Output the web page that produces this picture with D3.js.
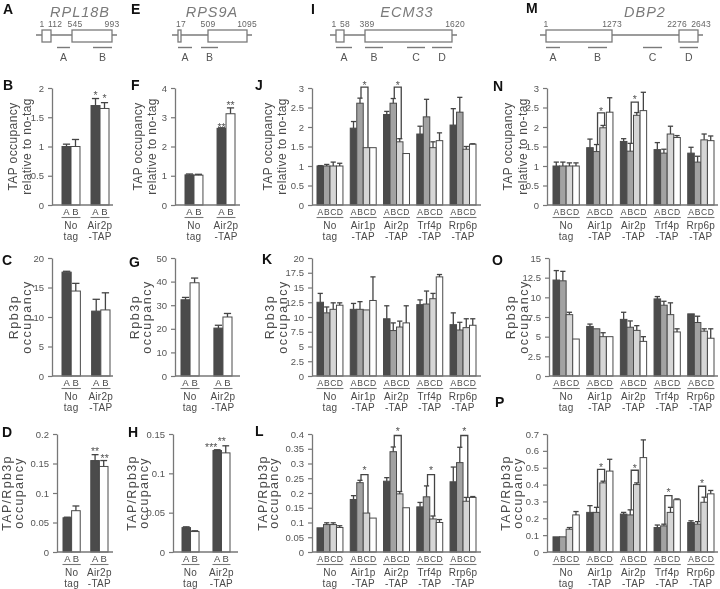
<!DOCTYPE html>
<html><head><meta charset="utf-8">
<script src="https://cdn.jsdelivr.net/npm/d3@7"></script>
<style>
body{margin:0;background:#fff}
svg{display:block;will-change:transform}
text{font-family:"Liberation Sans",Arial,Helvetica,sans-serif}
</style>
</head><body>
<svg id="c" width="720" height="589"></svg>
<script>
// ================= DATA =================
const probes2 = ["A","B"];
const probes4 = ["A","B","C","D"];
const strains2Line1 = ["No","Air2p"];
const strains2Line2 = ["tag","-TAP"];
const strains5Line1 = ["No","Air1p","Air2p","Trf4p","Rrp6p"];
const strains5Line2 = ["tag","-TAP","-TAP","-TAP","-TAP"];

// RPL18B (panels B, C, D)
const rpl18bTap = [[1.00,1.00],[1.70,1.65]];
const rpl18bTapErr = [[0.04,0.12],[0.12,0.10]];
const rpl18bRpb3 = [[17.6,14.4],[11.0,11.2]];
const rpl18bRpb3Err = [[0.15,1.3],[2.0,2.9]];
const rpl18bRatio = [[0.058,0.070],[0.155,0.145]];
const rpl18bRatioErr = [[0.001,0.008],[0.010,0.010]];

// RPS9A (panels F, G, H)
const rps9aTap = [[1.03,1.02],[2.62,3.12]];
const rps9aTapErr = [[0.03,0.03],[0.02,0.20]];
const rps9aRpb3 = [[32.3,39.5],[20.3,25.0]];
const rps9aRpb3Err = [[1.0,2.0],[1.2,1.5]];
const rps9aRatio = [[0.031,0.026],[0.129,0.126]];
const rps9aRatioErr = [[0.001,0.001],[0.001,0.009]];

// ECM33 (panels J, K, L)
const ecm33Tap = [[1.00,1.00,1.00,1.00],[1.97,2.61,1.47,1.47],[2.32,2.61,1.62,1.32],[1.82,2.26,1.47,1.65],[2.05,2.38,1.43,1.56]];
const ecm33TapErr = [[0.01,0.04,0.10,0.07],[0.17,0.13,0,0],[0.08,0.12,0.08,0],[0.20,0.45,0.15,0.20],[0.42,0.38,0.07,0.01]];
const ecm33Rpb3 = [[12.5,10.7,11.3,12.0],[11.3,11.3,11.2,12.8],[9.7,7.7,8.3,9.0],[12.1,12.2,13.1,16.8],[8.7,7.8,8.2,8.6]];
const ecm33Rpb3Err = [[1.5,1.0,1.1,0.4],[1.0,1.3,0,4.0],[2.2,1.3,1.0,2.9],[0.8,2.2,0.9,0.4],[2.0,1.3,1.5,1.1]];
const ecm33Ratio = [[0.082,0.093,0.093,0.083],[0.178,0.235,0.132,0.115],[0.240,0.340,0.197,0.150],[0.153,0.187,0.112,0.100],[0.238,0.303,0.172,0.185]];
const ecm33RatioErr = [[0,0.006,0.006,0.006],[0.013,0.008,0,0],[0.012,0.016,0.008,0],[0.015,0.037,0.010,0.010],[0.050,0.052,0.013,0.003]];

// DBP2 (panels N, O, P)
const dbp2Tap = [[1.00,1.00,1.00,1.00],[1.47,1.37,1.98,2.38],[1.63,1.38,2.30,2.42],[1.42,1.33,1.82,1.73],[1.33,1.10,1.67,1.65]];
const dbp2TapErr = [[0.10,0.10,0.08,0.08],[0.22,0.18,0.06,0.37],[0.07,0.20,0.07,0.47],[0.18,0.10,0.20,0.05],[0.15,0.15,0.15,0.12]];
const dbp2Rpb3 = [[12.2,12.1,7.8,4.7],[6.3,6.0,5.0,5.0],[7.2,6.2,5.8,4.4],[9.8,9.0,7.8,5.6],[7.9,6.8,5.7,4.8]];
const dbp2Rpb3Err = [[1.2,1.2,0.3,0],[0.3,0,0.5,0],[0.9,0.8,0.6,0.6],[0.3,0.5,1.5,0.4],[0,0.8,0.3,1.2]];
const dbp2Ratio = [[0.09,0.09,0.135,0.22],[0.235,0.235,0.41,0.48],[0.225,0.22,0.40,0.56],[0.145,0.155,0.235,0.31],[0.175,0.165,0.295,0.345]];
const dbp2RatioErr = [[0,0,0.01,0.02],[0.04,0.03,0.01,0.07],[0.01,0.03,0.01,0.105],[0.015,0.01,0.03,0.005],[0.01,0.015,0.03,0.02]];

// tick values
const ticksB = [0,0.5,1,1.5,2];
const ticksF = [0,1,2,3,4];
const ticksC = [0,5,10,15,20];
const ticksG = [0,10,20,30,40,50];
const ticksD = [0,0.05,0.1,0.15,0.2];
const ticksH = [0,0.05,0.1,0.15];
const ticksJN = [0,0.5,1,1.5,2,2.5,3];
const ticksK = [0,2.5,5,7.5,10,12.5,15,17.5,20];
const ticksO = [0,2.5,5,7.5,10,12.5,15];
const ticksL = [0,0.05,0.1,0.15,0.2,0.25,0.3,0.35,0.4];
const ticksP = [0,0.1,0.2,0.3,0.4,0.5,0.6,0.7];

// significance marks (group, probe, text, level)
const rpl18bTapStars = [{g:1,p:0,t:"*",v:1.91},{g:1,p:1,t:"*",v:1.86}];
const rps9aTapStars = [{g:1,p:0,t:"**",v:2.73},{g:1,p:1,t:"**",v:3.49}];
const rpl18bRatioStars = [{g:1,p:0,t:"**",v:0.175},{g:1,p:1,t:"**",v:0.163}];
const rps9aRatioStars = [{g:1,p:0,t:"***",v:0.136},{g:1,p:1,t:"**",v:0.144}];
// brackets between probe B and C (group, bracket level, star level)
const ecm33TapBrackets = [{g:1,top:3.02,star:3.14},{g:2,top:3.02,star:3.14}];
const dbp2TapBrackets = [{g:1,top:2.36,star:2.47},{g:2,top:2.64,star:2.78}];
const ecm33RatioBrackets = [{g:1,top:0.262,star:0.285},{g:2,top:0.395,star:0.418},{g:3,top:0.262,star:0.285},{g:4,top:0.395,star:0.418}];
const dbp2RatioBrackets = [{g:1,top:0.49,star:0.515},{g:2,top:0.485,star:0.51},{g:3,top:0.335,star:0.365},{g:4,top:0.39,star:0.42}];

// gene maps
const geneNames = ["RPL18B","RPS9A","ECM33","DBP2"];
const rpl18bMarks = [1,112,545,993];
const rpl18bExons = [[1,112],[545,993]];
const rpl18bAmplicons = [[236,503],[780,993]];
const rps9aMarks = [1,17,509,1095];
const rps9aLabels = [17,509,1095];
const rps9aExons = [[1,17],[509,1095]];
const rps9aAmplicons = [[1,217],[381,659]];
const ecm33Marks = [1,58,389,1620];
const ecm33Exons = [[1,58],[389,1620]];
const ecm33Amplicons = [[1,184],[389,644],[983,1238],[1337,1620]];
const dbp2Marks = [1,1273,2276,2643];
const dbp2Exons = [[1,1273],[2276,2643]];
const dbp2Amplicons = [[1,271],[810,1177],[1737,2022],[2291,2643]];

// ================= DRAWING =================
const svg = d3.select("#c");
const FONT = '"Liberation Sans",Arial,Helvetica,sans-serif';
const fill4 = ["#4b4b4b","#a2a2a2","#d6d6d6","#ffffff"];
const fill2 = ["#4b4b4b","#ffffff"];
const AX = "#777", TXT = "#4a4a4a";

function panel(o){
  const g = svg.append("g");
  const nP = o.probes.length;
  const y = d3.scaleLinear().domain([0,o.max]).range([o.base,o.top]);
  const x0 = d3.scaleBand().domain(d3.range(o.values.length)).range(o.groupRange).paddingInner(o.pad).paddingOuter(0);
  const x1 = d3.scaleBand().domain(d3.range(nP)).range([0,x0.bandwidth()]);
  const fills = nP===4 ? fill4 : fill2;
  const bw = x1.bandwidth();
  const cx = (gi,pi)=> x0(gi)+x1(pi)+bw/2;

  // y axis
  const ax = d3.axisLeft(y).tickValues(o.ticks).tickSize(4).tickSizeOuter(0).tickPadding(4).tickFormat(d=>String(d));
  const axG = g.append("g").attr("transform",`translate(${o.axisX},0)`).call(ax);
  axG.select(".domain").attr("stroke",AX).attr("stroke-width",1.3);
  axG.selectAll(".tick line").attr("stroke",AX).attr("stroke-width",1.2);
  axG.selectAll(".tick text").attr("fill","#555").style("font-size","9.5px").style("font-family",FONT);

  // bars
  const flat = [];
  o.values.forEach((grp,gi)=>grp.forEach((v,pi)=>flat.push({gi,pi,v,e:o.errs[gi][pi]})));
  g.selectAll("rect.bar").data(flat).join("rect").attr("class","bar")
    .attr("x",d=>x0(d.gi)+x1(d.pi)).attr("y",d=>y(d.v))
    .attr("width",bw).attr("height",d=>o.base-y(d.v))
    .attr("fill",d=>fills[d.pi]).attr("stroke","#4a4a4a").attr("stroke-width",1);
  // error bars (upper)
  const eb = flat.filter(d=>d.e>0);
  g.selectAll("line.ev").data(eb).join("line")
    .attr("x1",d=>cx(d.gi,d.pi)).attr("x2",d=>cx(d.gi,d.pi))
    .attr("y1",d=>y(d.v)).attr("y2",d=>y(d.v+d.e))
    .attr("stroke","#444").attr("stroke-width",1.3);
  g.selectAll("line.ec").data(eb).join("line")
    .attr("x1",d=>cx(d.gi,d.pi)-bw*0.4).attr("x2",d=>cx(d.gi,d.pi)+bw*0.4)
    .attr("y1",d=>y(d.v+d.e)).attr("y2",d=>y(d.v+d.e))
    .attr("stroke","#444").attr("stroke-width",1.3);

  // baseline
  g.append("line").attr("x1",o.axisX).attr("x2",o.axisEnd).attr("y1",o.base).attr("y2",o.base)
    .attr("stroke",AX).attr("stroke-width",1.3);

  // probe letters, underline, strain labels
  o.values.forEach((grp,gi)=>{
    o.probes.forEach((p,pi)=>{
      g.append("text").attr("x",cx(gi,pi)).attr("y",o.base+10).attr("text-anchor","middle")
        .attr("fill",TXT).style("font-size",nP===4?"8.5px":"9.5px").text(p);
    });
    g.append("line").attr("x1",x0(gi)-0.5).attr("x2",x0(gi)+x0.bandwidth()+0.5)
      .attr("y1",o.base+12.5).attr("y2",o.base+12.5).attr("stroke",AX).attr("stroke-width",1.1);
    const mx = x0(gi)+x0.bandwidth()/2;
    g.append("text").attr("x",mx).attr("y",o.base+23.5).attr("text-anchor","middle")
      .attr("fill",TXT).style("font-size","10px").style("letter-spacing","0.3px").text(o.line1[gi]);
    g.append("text").attr("x",mx).attr("y",o.base+34.5).attr("text-anchor","middle")
      .attr("fill",TXT).style("font-size","10px").style("letter-spacing","0.3px").text(o.line2[gi]);
  });

  // stars
  (o.stars||[]).forEach((s,i)=>{
    const dx = o.starDx ? o.starDx[i] : 0;
    g.append("text").attr("x",cx(s.g,s.p)+dx).attr("y",y(s.v)+6).attr("text-anchor","middle")
      .attr("fill","#555").style("font-size","10.5px").text(s.t);
  });
  // brackets B–C
  (o.brackets||[]).forEach(b=>{
    const lx = cx(b.g,1)+1, rx = cx(b.g,2)+1.5;
    const lv = o.values[b.g][1]+o.errs[b.g][1];
    const rv = o.values[b.g][2]+o.errs[b.g][2];
    g.append("path").attr("d",`M${lx},${y(lv)}V${y(b.top)}H${rx}V${y(rv)}`)
      .attr("fill","none").attr("stroke","#444").attr("stroke-width",1.3);
    g.append("text").attr("x",(lx+rx)/2).attr("y",y(b.star)+6).attr("text-anchor","middle")
      .attr("fill","#555").style("font-size","10.5px").text("*");
  });

  // axis title
  const cy = (o.top+o.base)/2;
  o.title.forEach((t,i)=>{
    g.append("text").attr("transform",`translate(${o.titleX[i]},${cy}) rotate(-90)`)
      .attr("text-anchor","middle").attr("dy","0.35em")
      .attr("fill",TXT).style("font-size",o.titleSize+"px").style("letter-spacing",o.titleLS+"px").text(t);
  });
}

const R1 = {top:88, base:205}, R2 = {top:258, base:376}, R3 = {top:434, base:552};
const t1 = {title:["TAP occupancy","relative to no-tag"], titleSize:12, titleLS:0.4};
const t2 = {title:["Rpb3p","occupancy"], titleSize:12.5, titleLS:1.5};
const t3 = {title:["TAP/Rpb3p","occupancy"], titleSize:12.5, titleLS:1.3};
const c2 = {probes:probes2, line1:strains2Line1, line2:strains2Line2};
const c5 = {probes:probes4, line1:strains5Line1, line2:strains5Line2};

// Row 1
panel({...R1,...t1,...c2, values:rpl18bTap, errs:rpl18bTapErr, max:2, ticks:ticksB, axisX:52, axisEnd:113, groupRange:[62,109], pad:0.38, stars:rpl18bTapStars, titleX:[13,27]});
panel({...R1,...t1,...c2, values:rps9aTap, errs:rps9aTapErr, max:4, ticks:ticksF, axisX:175, axisEnd:240, groupRange:[185,235], pad:0.44, stars:rps9aTapStars, titleX:[138,152]});
panel({...R1,...t1,...c5, values:ecm33Tap, errs:ecm33TapErr, max:3, ticks:ticksJN, axisX:312, axisEnd:481, groupRange:[317,476], pad:0.22, brackets:ecm33TapBrackets, titleX:[268,282]});
panel({...R1,...t1,...c5, values:dbp2Tap, errs:dbp2TapErr, max:3, ticks:ticksJN, axisX:547, axisEnd:718, groupRange:[553,714], pad:0.22, brackets:dbp2TapBrackets, titleX:[508,523]});
// Row 2
panel({...R2,...t2,...c2, values:rpl18bRpb3, errs:rpl18bRpb3Err, max:20, ticks:ticksC, axisX:52, axisEnd:113, groupRange:[62,110], pad:0.38, titleX:[14,27]});
panel({...R2,...t2,...c2, values:rps9aRpb3, errs:rps9aRpb3Err, max:50, ticks:ticksG, axisX:175, axisEnd:240, groupRange:[181,232], pad:0.45, titleX:[135,147]});
panel({...R2,...t2,...c5, values:ecm33Rpb3, errs:ecm33Rpb3Err, max:20, ticks:ticksK, axisX:312, axisEnd:481, groupRange:[317,476], pad:0.22, titleX:[270,283]});
panel({...R2,...t2,...c5, values:dbp2Rpb3, errs:dbp2Rpb3Err, max:15, ticks:ticksO, axisX:549, axisEnd:718, groupRange:[553,714], pad:0.22, titleX:[511,524]});
// Row 3
panel({...R3,...t3,...c2, values:rpl18bRatio, errs:rpl18bRatioErr, max:0.2, ticks:ticksD, axisX:57, axisEnd:113, groupRange:[63,108], pad:0.38, stars:rpl18bRatioStars, starDx:[0,1], titleX:[7,19]});
panel({...R3,...t3,...c2, values:rps9aRatio, errs:rps9aRatioErr, max:0.15, ticks:ticksH, axisX:173, axisEnd:238, groupRange:[182,230], pad:0.45, stars:rps9aRatioStars, starDx:[-6,-4], titleX:[132,144]});
panel({...R3,...t3,...c5, values:ecm33Ratio, errs:ecm33RatioErr, max:0.4, ticks:ticksL, axisX:312, axisEnd:481, groupRange:[317,476], pad:0.22, brackets:ecm33RatioBrackets, titleX:[263,274]});
panel({...R3,...t3,...c5, values:dbp2Ratio, errs:dbp2RatioErr, max:0.7, ticks:ticksP, axisX:547, axisEnd:718, groupRange:[553,714], pad:0.22, brackets:dbp2RatioBrackets, titleX:[506,518]});

// gene maps
function gene(o){
  const g = svg.append("g");
  const s = d3.scaleLinear().domain(o.marks).range(o.px);
  const GC = "#7a7a7a";
  const L = o.marks[0], Rr = o.marks[o.marks.length-1];
  g.append("text").attr("x",o.titleX).attr("y",17).attr("text-anchor","middle")
    .attr("fill",GC).style("font-size","14.5px").style("font-style","italic").style("letter-spacing","1px").text(o.name);
  g.append("line").attr("x1",s(L)-6).attr("x2",s(Rr)+5).attr("y1",35).attr("y2",35).attr("stroke",GC).attr("stroke-width",1.3);
  o.exons.forEach(e=>{
    g.append("rect").attr("x",s(e[0])).attr("y",30).attr("width",s(e[1])-s(e[0])).attr("height",12)
      .attr("fill","#fff").attr("stroke",GC).attr("stroke-width",1.3);
  });
  o.amps.forEach((a,i)=>{
    g.append("line").attr("x1",s(a[0])).attr("x2",s(a[1])).attr("y1",47.5).attr("y2",47.5).attr("stroke",GC).attr("stroke-width",1.4);
    g.append("text").attr("x",(s(a[0])+s(a[1]))/2).attr("y",61).attr("text-anchor","middle")
      .attr("fill","#555").style("font-size","10.5px").text(probes4[i]);
  });
  o.labels.forEach((n,i)=>{
    g.append("text").attr("x",s(n)+(o.labelDx?o.labelDx[i]:0)).attr("y",27).attr("text-anchor","middle")
      .attr("fill","#666").style("font-size","8.5px").style("letter-spacing","0.2px").text(n);
  });
}
gene({name:geneNames[0], marks:rpl18bMarks, px:[42,51,72,112], labels:rpl18bMarks, labelDx:[0,4,3,0], exons:rpl18bExons, amps:rpl18bAmplicons, titleX:80});
gene({name:geneNames[1], marks:rps9aMarks, px:[178,181,208,247], labels:rps9aLabels, labelDx:[0,0,0], exons:rps9aExons, amps:rps9aAmplicons, titleX:212});
gene({name:geneNames[2], marks:ecm33Marks, px:[336,344,365,452], labels:ecm33Marks, labelDx:[-2,1,2,3], exons:ecm33Exons, amps:ecm33Amplicons, titleX:407});
gene({name:geneNames[3], marks:dbp2Marks, px:[546,612,679,698], labels:dbp2Marks, labelDx:[0,0,-2,3], exons:dbp2Exons, amps:dbp2Amplicons, titleX:645});

// panel letters
const letters = [
  ["A",3,14],["E",131,14],["I",311,14],["M",526,13],
  ["B",3,90],["F",131,90],["J",255,90],["N",493,91],
  ["C",2,265],["G",129,267],["K",262,264],["O",492,265],
  ["D",2,437],["H",128,437],["L",255,436],["P",495,407]
];
svg.selectAll("text.lt").data(letters).join("text").attr("class","lt")
  .attr("x",d=>d[1]).attr("y",d=>d[2]).attr("fill","#111")
  .style("font-size","14px").style("font-weight","bold").text(d=>d[0]);
</script>
</body></html>
